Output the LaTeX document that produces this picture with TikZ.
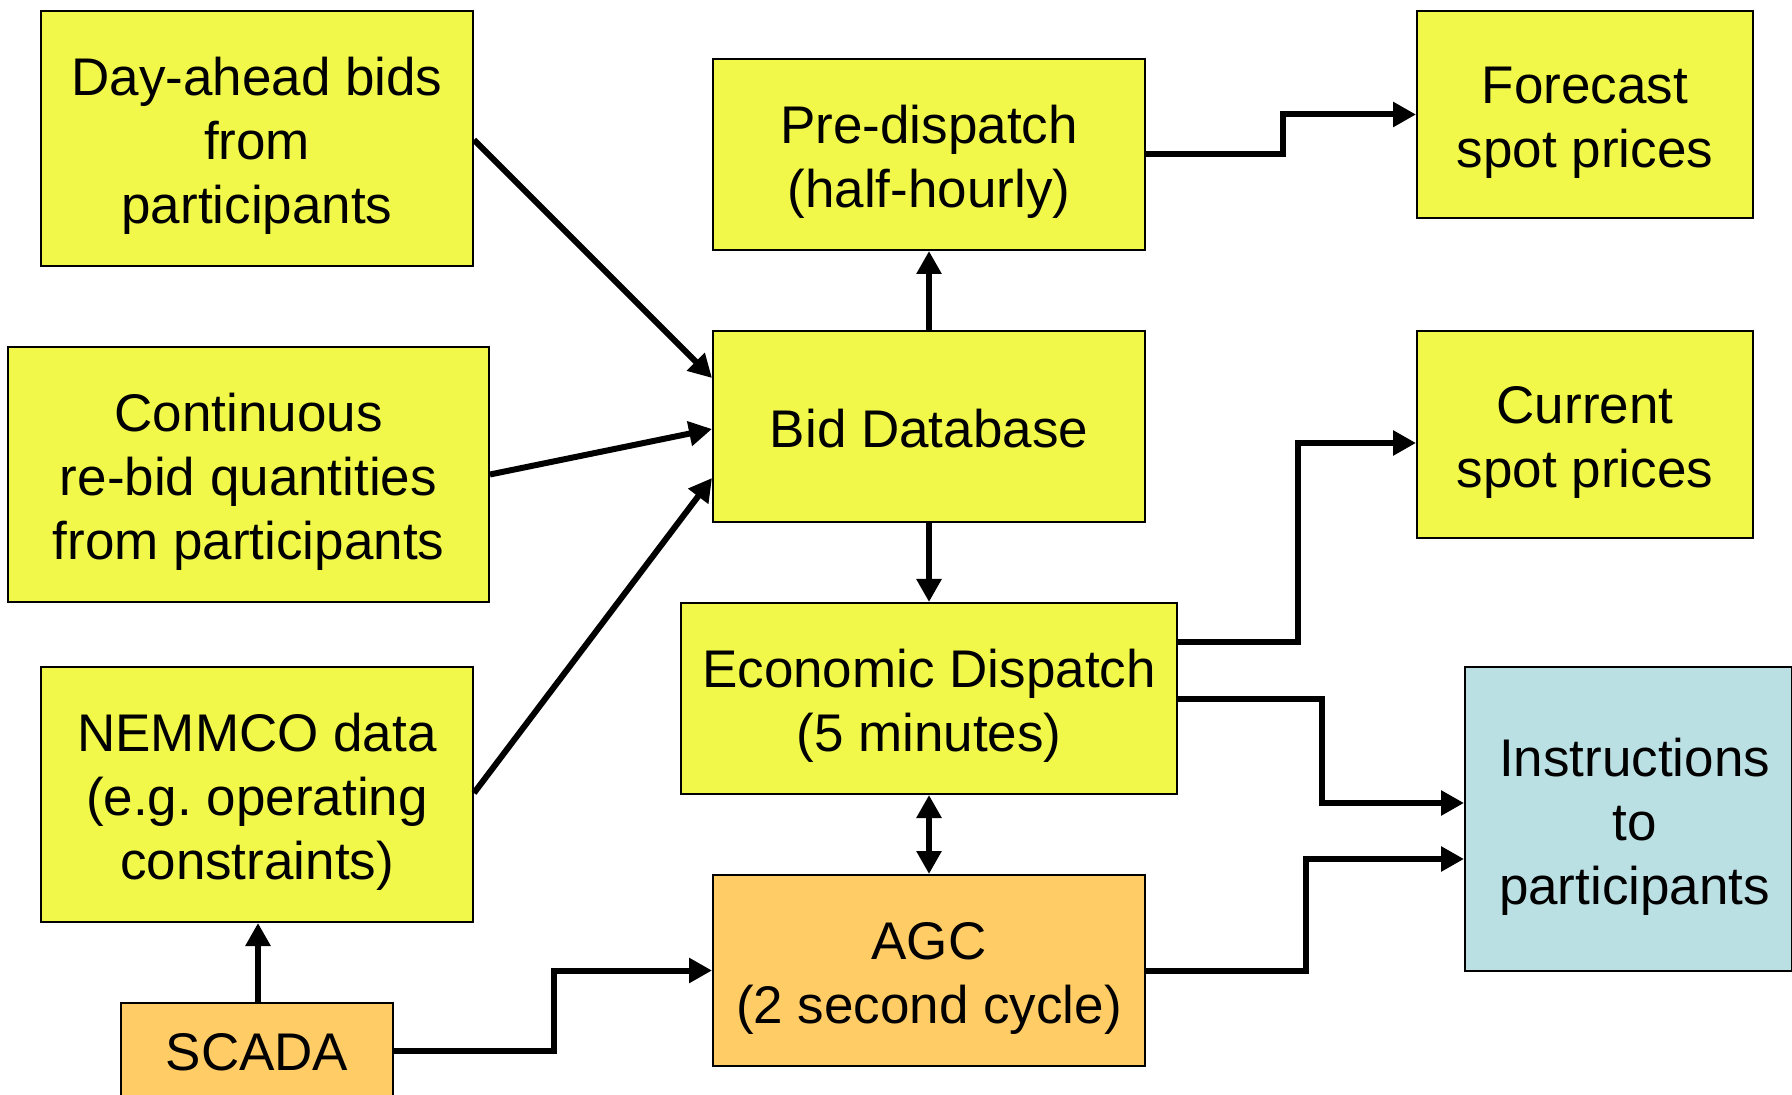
\documentclass[tikz,border=0pt]{standalone}
\usepackage{fontspec}
\setmainfont{Liberation Sans}
\usetikzlibrary{arrows.meta,calc}
\definecolor{boxyellow}{RGB}{241,248,74}
\definecolor{boxorange}{RGB}{255,204,102}
\definecolor{boxblue}{RGB}{187,224,227}
\newcommand{\tup}{\rule{0pt}{26.5pt}}
\newcommand{\tin}{\hspace*{6pt}}
\frenchspacing
\begin{document}
\begin{tikzpicture}[x=0.5pt,y=-0.5pt,
  box/.style={draw=black, line width=1pt, align=center, inner sep=0pt,
    font=\fontsize{26.5}{32}\selectfont},
  yel/.style={box, fill=boxyellow},
  org/.style={box, fill=boxorange},
  blu/.style={box, fill=boxblue},
  conn/.style={line width=3pt, -{Triangle[length=11.5pt,width=12pt]}},
  dconn/.style={line width=3pt, {Triangle[length=11.5pt,width=12pt]}-{Triangle[length=11.5pt,width=12pt]}}
]
\clip (0,0) rectangle (1792,1095);
\fill[white] (0,0) rectangle (1792,1095);

\node[yel, minimum width=216pt, minimum height=127.5pt] (day) at (257,138.5) {\tup Day-ahead bids\\from\\participants};
\node[yel, minimum width=216pt, minimum height=95.5pt] (pre) at (929,154.5) {\tup Pre-dispatch\\(half-hourly)};
\node[yel, minimum width=168pt, minimum height=103.5pt] (fore) at (1585,114.5) {\tup Forecast\\spot prices};
\node[yel, minimum width=240.5pt, minimum height=127.5pt] (cont) at (248.5,474.5) {\tup Continuous\\re-bid quantities\\from participants};
\node[yel, minimum width=216pt, minimum height=95.5pt] (bid) at (929,426.5) {\rule{0pt}{21.5pt}Bid Database};
\node[yel, minimum width=168pt, minimum height=103.5pt] (cur) at (1585,434.5) {\tup Current\\spot prices};
\node[yel, minimum width=216pt, minimum height=127.5pt] (nem) at (257,794.5) {\tup NEMMCO data\\(e.g. operating\\constraints)};
\node[yel, minimum width=248pt, minimum height=95.5pt] (eco) at (929,698.5) {\tup Economic Dispatch\\(5 minutes)};
\node[blu, minimum width=163.5pt, minimum height=152pt] (ins) at (1628.5,819) {\tup\tin Instructions\\\tin to\\\tin participants};
\node[org, minimum width=216pt, minimum height=95.5pt] (agc) at (929,970.5) {\tup AGC\\(2 second cycle)};
\node[org, minimum width=136pt, minimum height=49pt] (scada) at (257,1052) {SCADA};

\draw[conn] ($(day.east)+(0,1.5)$) -- ($(bid.west)+(0,-48.5)$);
\draw[conn] (cont.east) -- ($(bid.west)+(0,2.5)$);
\draw[conn] ($(nem.east)+(0,-1.5)$) -- ($(bid.west)+(0,51.5)$);
\draw[conn] (bid.north) -- (pre.south);
\draw[conn] (bid.south) -- (eco.north);
\draw[dconn] (eco.south) -- (agc.north);
\draw[conn] (pre.east) -- ($(pre.east)+(137,0)$) |- (fore.west);
\draw[conn] ($(eco.east)+(0,-56.5)$) -- ($(eco.east)+(120,-56.5)$) |- ($(cur.west)+(0,8.5)$);
\draw[conn] (eco.east) -- ($(eco.east)+(144,0)$) |- ($(ins.west)+(0,-16)$);
\draw[conn] (agc.east) -- ($(agc.east)+(160,0)$) |- ($(ins.west)+(0,40)$);
\draw[conn] ($(scada.east)+(0,-1)$) -- ($(scada.east)+(160,-1)$) |- (agc.west);
\draw[conn] ($(scada.north)+(1,0)$) -- ($(nem.south)+(1,0)$);
\end{tikzpicture}
\end{document}
